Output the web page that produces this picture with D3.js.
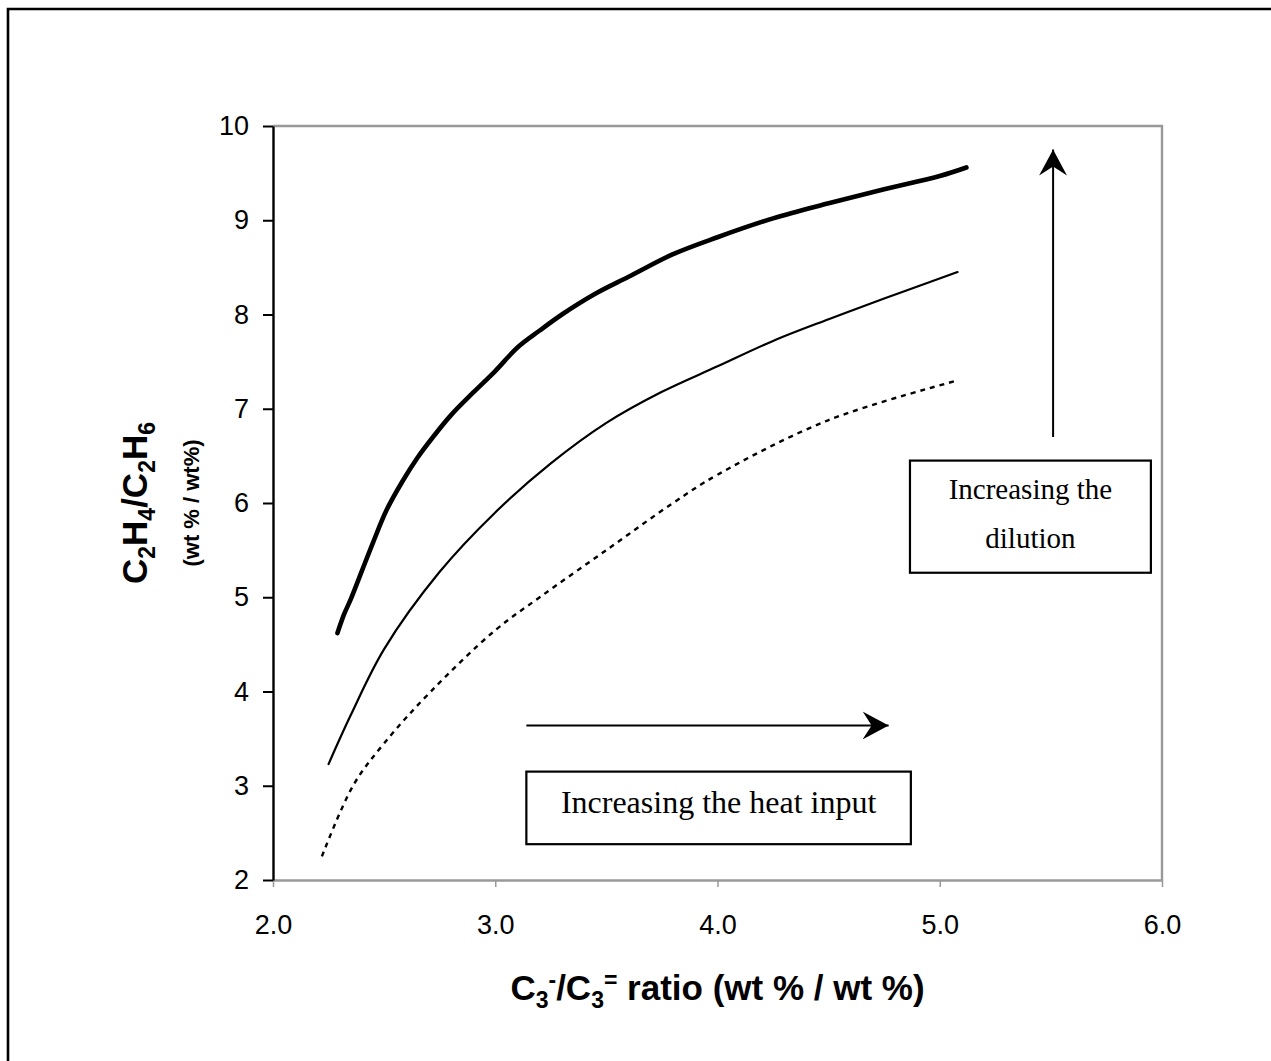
<!DOCTYPE html>
<html>
<head>
<meta charset="utf-8">
<script src="https://cdn.jsdelivr.net/npm/d3@7"></script>
<style>
  html, body { margin: 0; padding: 0; background: #fff; }
  svg { display: block; }
</style>
</head>
<body>
<script>
// Ethylene/ethane ratio versus propane/propylene ratio, three dilution levels
const xTicks = [2.0, 3.0, 4.0, 5.0, 6.0];
const yTicks = [2, 3, 4, 5, 6, 7, 8, 9, 10];

// highest dilution (heavy line)
const highDilution = [
  [2.29, 4.62], [2.32, 4.82], [2.35, 4.98], [2.40, 5.28], [2.45, 5.58],
  [2.51, 5.92], [2.58, 6.22], [2.65, 6.48], [2.72, 6.70], [2.80, 6.93],
  [2.90, 7.17], [3.00, 7.40], [3.10, 7.65], [3.20, 7.83], [3.30, 8.00],
  [3.45, 8.22], [3.60, 8.40], [3.80, 8.64], [4.00, 8.82], [4.25, 9.02],
  [4.50, 9.18], [4.75, 9.33], [5.00, 9.47], [5.12, 9.56]
];
// intermediate dilution (thin line)
const midDilution = [
  [2.25, 3.23], [2.35, 3.75], [2.50, 4.45], [2.75, 5.27], [3.00, 5.90],
  [3.25, 6.42], [3.50, 6.85], [3.75, 7.18], [4.00, 7.45], [4.25, 7.72],
  [4.50, 7.95], [4.75, 8.17], [5.08, 8.45]
];
// lowest dilution (dotted line)
const lowDilution = [
  [2.22, 2.25], [2.36, 3.00], [2.50, 3.45], [2.71, 4.00], [3.00, 4.65],
  [3.20, 5.00], [3.50, 5.50], [3.80, 6.00], [4.00, 6.30], [4.50, 6.88],
  [5.08, 7.30]
];

const heatLabel = "Increasing the heat input";
const dilutionLabel = ["Increasing the", "dilution"];

const W = 1271, H = 1061;
const plot = { left: 273, right: 1162, top: 126, bottom: 880 };

const svg = d3.select("body").append("svg")
  .attr("width", W).attr("height", H);

// page frame (top and left edges)
svg.append("path")
  .attr("d", `M8,${H} V9 H${W}`)
  .attr("fill", "none").attr("stroke", "#000").attr("stroke-width", 2.6);

const x = d3.scaleLinear().domain([2, 6]).range([plot.left, plot.right]);
const y = d3.scaleLinear().domain([2, 10]).range([plot.bottom, plot.top]);

const sans = "Arial, 'Liberation Sans', Helvetica, sans-serif";
const serif = "'Times New Roman', 'Liberation Serif', Times, serif";

// plot area outline: grey top/right
svg.append("path")
  .attr("d", `M${plot.left},${plot.top} H${plot.right} V${plot.bottom}`)
  .attr("fill", "none").attr("stroke", "#999").attr("stroke-width", 2.4);

// x axis (grey)
const xAxis = svg.append("g")
  .attr("transform", `translate(0,${plot.bottom})`)
  .call(d3.axisBottom(x).tickValues(xTicks).tickFormat(d3.format(".1f"))
    .tickSizeInner(7).tickSizeOuter(0).tickPadding(28));
xAxis.select(".domain").attr("stroke", "#999").attr("stroke-width", 2.4);
xAxis.selectAll(".tick line").attr("stroke", "#999").attr("stroke-width", 1.5);
xAxis.selectAll(".tick text")
  .attr("font-family", sans).attr("font-size", 27).attr("fill", "#000");

// y axis (black)
const yAxis = svg.append("g")
  .attr("transform", `translate(${plot.left},0)`)
  .call(d3.axisLeft(y).tickValues(yTicks).tickFormat(d3.format("d"))
    .tickSizeInner(10).tickSizeOuter(0).tickPadding(14));
yAxis.select(".domain").attr("stroke", "#000").attr("stroke-width", 2.4);
yAxis.selectAll(".tick line").attr("stroke", "#000").attr("stroke-width", 2);
yAxis.selectAll(".tick text")
  .attr("font-family", sans).attr("font-size", 27).attr("fill", "#000");

// curves
const line = d3.line()
  .x(d => x(d[0])).y(d => y(d[1]))
  .curve(d3.curveCatmullRom.alpha(0.5));

svg.append("path").datum(lowDilution)
  .attr("d", line).attr("fill", "none").attr("stroke", "#000")
  .attr("stroke-width", 2.4).attr("stroke-dasharray", "5,5");
svg.append("path").datum(midDilution)
  .attr("d", line).attr("fill", "none").attr("stroke", "#000")
  .attr("stroke-width", 2.2).attr("stroke-linecap", "round");
svg.append("path").datum(highDilution)
  .attr("d", line).attr("fill", "none").attr("stroke", "#000")
  .attr("stroke-width", 4.6).attr("stroke-linecap", "round")
  .attr("stroke-linejoin", "round");

// arrow head marker
svg.append("defs").append("marker")
  .attr("id", "head")
  .attr("viewBox", "0 0 26 28")
  .attr("refX", 26).attr("refY", 14)
  .attr("markerWidth", 26).attr("markerHeight", 28)
  .attr("markerUnits", "userSpaceOnUse")
  .attr("orient", "auto")
  .append("path")
  .attr("d", "M0,0 L26,14 L0,28 L9,14 Z")
  .attr("fill", "#000");

// horizontal arrow: heat input
const heatArrow = { x0: 3.14, x1: 4.77, y: 3.64 };
svg.append("line")
  .attr("x1", x(heatArrow.x0)).attr("x2", x(heatArrow.x1))
  .attr("y1", y(heatArrow.y)).attr("y2", y(heatArrow.y))
  .attr("stroke", "#000").attr("stroke-width", 2)
  .attr("marker-end", "url(#head)");

// vertical arrow: dilution
const dilArrow = { x: 5.51, y0: 6.7, y1: 9.75 };
svg.append("line")
  .attr("x1", x(dilArrow.x)).attr("x2", x(dilArrow.x))
  .attr("y1", y(dilArrow.y0)).attr("y2", y(dilArrow.y1))
  .attr("stroke", "#000").attr("stroke-width", 2)
  .attr("marker-end", "url(#head)");

// heat input box
const heatBox = { x0: 3.14, x1: 4.87, y0: 3.15, y1: 2.38 };
svg.append("rect")
  .attr("x", x(heatBox.x0)).attr("y", y(heatBox.y0))
  .attr("width", x(heatBox.x1) - x(heatBox.x0))
  .attr("height", y(heatBox.y1) - y(heatBox.y0))
  .attr("fill", "#fff").attr("stroke", "#000").attr("stroke-width", 2.2);
svg.append("text")
  .attr("x", x((heatBox.x0 + heatBox.x1) / 2)).attr("y", 813)
  .attr("text-anchor", "middle")
  .attr("font-family", serif).attr("font-size", 32)
  .text(heatLabel);

// dilution box
const dilBox = { x0: 4.866, x1: 5.95, y0: 6.45, y1: 5.26 };
const dilCx = x((dilBox.x0 + dilBox.x1) / 2);
svg.append("rect")
  .attr("x", x(dilBox.x0)).attr("y", y(dilBox.y0))
  .attr("width", x(dilBox.x1) - x(dilBox.x0))
  .attr("height", y(dilBox.y1) - y(dilBox.y0))
  .attr("fill", "#fff").attr("stroke", "#000").attr("stroke-width", 2.2);
svg.append("text")
  .attr("x", dilCx).attr("y", 499)
  .attr("text-anchor", "middle")
  .attr("font-family", serif).attr("font-size", 29)
  .text(dilutionLabel[0]);
svg.append("text")
  .attr("x", dilCx).attr("y", 548)
  .attr("text-anchor", "middle")
  .attr("font-family", serif).attr("font-size", 29)
  .text(dilutionLabel[1]);

// x axis title: C3-/C3= ratio (wt % / wt %)
const xt = svg.append("text")
  .attr("x", (plot.left + plot.right) / 2).attr("y", 1000)
  .attr("text-anchor", "middle")
  .attr("font-family", sans).attr("font-weight", "bold").attr("font-size", 35);
xt.append("tspan").text("C");
xt.append("tspan").attr("dy", 8).attr("font-size", 23).text("3");
xt.append("tspan").attr("dy", -20).attr("font-size", 23).text("-");
xt.append("tspan").attr("dy", 12).text("/C");
xt.append("tspan").attr("dy", 8).attr("font-size", 23).text("3");
xt.append("tspan").attr("dy", -20).attr("font-size", 23).text("=");
xt.append("tspan").attr("dy", 12).text(" ratio (wt % / wt %)");

// y axis title
const midY = (plot.top + plot.bottom) / 2;
const yt = svg.append("text")
  .attr("transform", `translate(147,${midY}) rotate(-90)`)
  .attr("text-anchor", "middle")
  .attr("font-family", sans).attr("font-weight", "bold").attr("font-size", 35);
yt.append("tspan").text("C");
yt.append("tspan").attr("dy", 8).attr("font-size", 23).text("2");
yt.append("tspan").attr("dy", -8).text("H");
yt.append("tspan").attr("dy", 8).attr("font-size", 23).text("4");
yt.append("tspan").attr("dy", -8).text("/C");
yt.append("tspan").attr("dy", 8).attr("font-size", 23).text("2");
yt.append("tspan").attr("dy", -8).text("H");
yt.append("tspan").attr("dy", 8).attr("font-size", 23).text("6");

svg.append("text")
  .attr("transform", `translate(199,${midY}) rotate(-90)`)
  .attr("text-anchor", "middle")
  .attr("font-family", sans).attr("font-weight", "bold").attr("font-size", 22)
  .text("(wt % / wt%)");
</script>
</body>
</html>
